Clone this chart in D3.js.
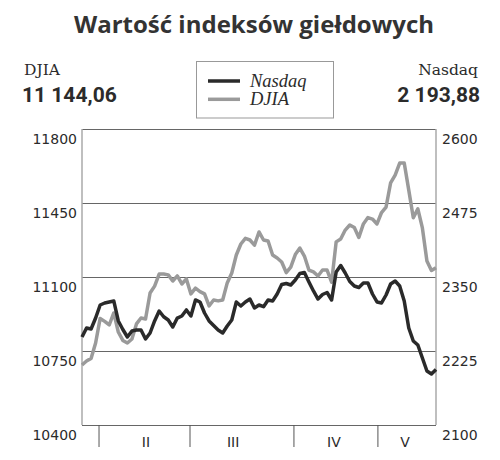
<!DOCTYPE html>
<html><head><meta charset="utf-8">
<script src="https://cdn.jsdelivr.net/npm/d3@7"></script>
<style>body{margin:0;background:#fff}</style></head>
<body><svg id="c" width="500" height="460"></svg>
<script>
const title = "Wartość indeksów giełdowych";
const seriesNames = ["Nasdaq", "DJIA"];
const lastValues = {DJIA: "11 144,06", Nasdaq: "2 193,88"};
const nasdaq = [2248.6,2263.9,2262.2,2280.7,2302.7,2306.1,2307.8,2309.5,2275.7,2261.3,
  2248.6,2258.8,2260.5,2260.5,2245.3,2255.4,2275.7,2292.6,2282.9,2277.4,
  2265.5,2280.7,2284.1,2294.3,2284.1,2311.2,2307.8,2289.2,2275.7,2268.1,
  2260.5,2255.4,2267.2,2277.4,2307.8,2301.0,2307.8,2312.8,2297.6,2302.7,
  2299.8,2311.2,2309.5,2321.3,2337.3,2339.0,2336.5,2344.9,2355.9,2357.6,
  2341.6,2326.4,2312.8,2320.4,2323.8,2311.2,2358.4,2369.4,2356.8,2342.4,
  2334.8,2332.3,2339.9,2339.9,2321.3,2307.8,2306.1,2319.6,2338.2,2343.2,
  2334.8,2309.5,2263.9,2241.9,2235.1,2213.2,2191.2,2186.1,2193.88];
const djia = [10684,10703,10715,10788,10904,10890,10873,10930,10840,10800,
  10788,10807,10878,10906,10901,11024,11057,11114,11114,11110,
  11081,11105,11067,11091,11020,11047,11031,11020,10963,10991,
  10987,10991,11072,11119,11204,11256,11283,11275,11251,11313,
  11275,11270,11204,11190,11171,11121,11147,11206,11237,11199,
  11133,11124,11105,11133,11133,11076,11266,11280,11322,11346,
  11334,11287,11351,11381,11374,11351,11405,11431,11545,11582,
  11639,11639,11511,11380,11422,11332,11176,11131,11144.06];
const djiaTicks = [10400, 10750, 11100, 11450, 11800];
const nasdaqTicks = [2100, 2225, 2350, 2475, 2600];
const monthBounds = [3.75, 23.8, 46.7, 65.2];
const monthLabels = ["II", "III", "IV", "V"];
const monthLabelAt = [14.1, 33.3, 55.5, 71.2];

const svg = d3.select("#c");
const L = 82, R = 436, T = 129, B = 425;
const x = d3.scaleLinear().domain([0, djia.length - 1]).range([L, R]);
const yL = d3.scaleLinear().domain([10400, 11800]).range([B, T]);
const yR = d3.scaleLinear().domain([2100, 2600]).range([B, T]);
const axisFont = "'DejaVu Sans', sans-serif";
const textCol = "#2b2b2b";

// title
svg.append("text").attr("x", 254).attr("y", 33).attr("text-anchor", "middle")
  .style("font-family", "'Open Sans', sans-serif").style("font-weight", 700)
  .style("font-size", "24px").attr("fill", "#333").text(title);

// header values
svg.append("text").attr("x", 24).attr("y", 74.5)
  .style("font-family", "'DejaVu Serif', serif").style("font-size", "15.5px")
  .attr("fill", textCol).text("DJIA");
svg.append("text").attr("x", 22).attr("y", 101.7)
  .style("font-family", "Roboto, sans-serif").style("font-weight", 700)
  .style("font-size", "21px").attr("fill", textCol).text(lastValues.DJIA);
svg.append("text").attr("x", 478).attr("y", 74.5).attr("text-anchor", "end")
  .style("font-family", "'DejaVu Serif', serif").style("font-size", "15.5px")
  .attr("fill", textCol).text("Nasdaq");
svg.append("text").attr("x", 480).attr("y", 101.7).attr("text-anchor", "end")
  .style("font-family", "Roboto, sans-serif").style("font-weight", 700)
  .style("font-size", "21px").attr("fill", textCol).text(lastValues.Nasdaq);

// legend
const lg = svg.append("g");
lg.append("rect").attr("x", 196.5).attr("y", 61.5).attr("width", 137).attr("height", 56.5)
  .attr("fill", "none").attr("stroke", "#999").attr("stroke-width", 1);
const legendColors = ["#2a2a2a", "#9a9a9a"];
seriesNames.forEach((n, i) => {
  const yy = 81 + i * 18.3;
  lg.append("line").attr("x1", 208).attr("x2", 240).attr("y1", yy).attr("y2", yy)
    .attr("stroke", legendColors[i]).attr("stroke-width", 3.5);
  lg.append("text").attr("x", 250).attr("y", yy + 5.5)
    .style("font-family", "'Liberation Serif', serif").style("font-style", "italic")
    .style("font-size", "18.5px").attr("fill", textCol).text(n);
});

// gridlines + left axis
const gl = svg.append("g").attr("transform", `translate(${L},0)`)
  .call(d3.axisLeft(yL).tickValues(djiaTicks).tickSize(-(R - L)).tickPadding(5).tickFormat(d3.format("d")));
gl.select(".domain").remove();
gl.selectAll(".tick line").attr("stroke", "#666").attr("stroke-width", 1);
gl.selectAll(".tick text").attr("dy", "1.05em").attr("fill", textCol)
  .style("font-family", axisFont).style("font-size", "14px");

// right axis labels
const gr = svg.append("g").attr("transform", `translate(${R},0)`)
  .call(d3.axisRight(yR).tickValues(nasdaqTicks).tickSize(0).tickPadding(6).tickFormat(d3.format("d")));
gr.select(".domain").remove();
gr.selectAll(".tick text").attr("dy", "1.05em").attr("fill", textCol)
  .style("font-family", axisFont).style("font-size", "14px");

// vertical axis lines
svg.append("line").attr("x1", L).attr("x2", L).attr("y1", T).attr("y2", B)
  .attr("stroke", "#aaa").attr("stroke-width", 1.5);
svg.append("line").attr("x1", R).attr("x2", R).attr("y1", T).attr("y2", B)
  .attr("stroke", "#aaa").attr("stroke-width", 1.5);

// month ticks and labels
svg.append("g").selectAll("line").data(monthBounds).join("line")
  .attr("x1", d => x(d)).attr("x2", d => x(d)).attr("y1", B).attr("y2", 447)
  .attr("stroke", "#555").attr("stroke-width", 1);
svg.append("g").selectAll("text").data(monthLabels).join("text")
  .attr("x", (d, i) => x(monthLabelAt[i])).attr("y", 447).attr("text-anchor", "middle")
  .style("font-family", axisFont).style("font-size", "14px").attr("fill", textCol)
  .text(d => d);

// lines
const lineD = d3.line().x((d, i) => x(i)).y(d => yL(d)).curve(d3.curveLinear);
const lineN = d3.line().x((d, i) => x(i)).y(d => yR(d)).curve(d3.curveLinear);
svg.append("path").datum(djia).attr("d", lineD).attr("fill", "none")
  .attr("stroke", "#9a9a9a").attr("stroke-width", 3.5).attr("stroke-linejoin", "round");
svg.append("path").datum(nasdaq).attr("d", lineN).attr("fill", "none")
  .attr("stroke", "#2a2a2a").attr("stroke-width", 3.5).attr("stroke-linejoin", "round");
</script>
</body></html>
